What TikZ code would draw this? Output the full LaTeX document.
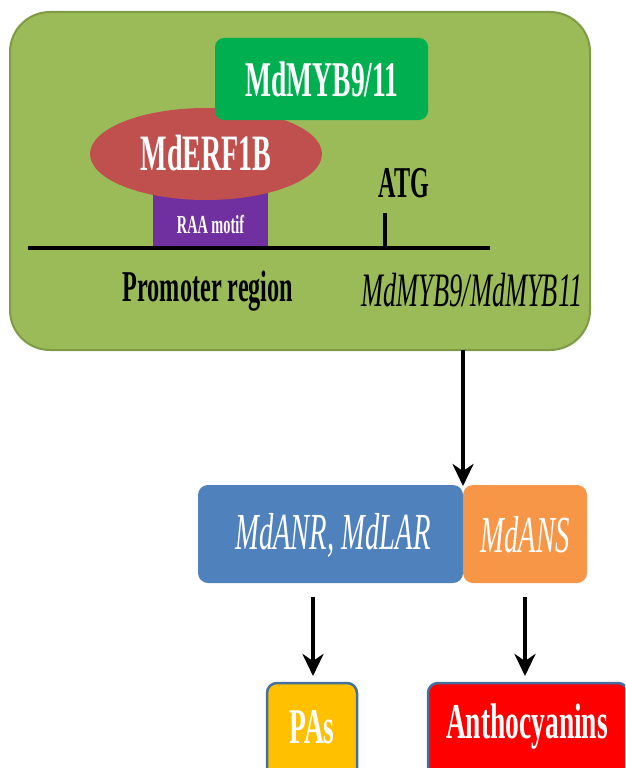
\documentclass[tikz,border=0pt]{standalone}
\usepackage{fontspec}
\setmainfont[FakeStretch=0.55]{Liberation Serif}
\usetikzlibrary{shapes.geometric,arrows.meta}
\definecolor{olivegreen}{HTML}{9BBB59}
\definecolor{oliveedge}{HTML}{7E9A45}
\definecolor{mybgreen}{HTML}{00B050}
\definecolor{erfred}{HTML}{C0504D}
\definecolor{raapurple}{HTML}{7030A0}
\definecolor{enzblue}{HTML}{4F81BD}
\definecolor{ansorange}{HTML}{F79646}
\definecolor{paorange}{HTML}{FFC000}
\definecolor{boxedge}{HTML}{41719C}
\tikzset{
  txt/.style={font=\bfseries\fontsize{#1}{#1}\selectfont},
  itxt/.style={font=\itshape\fontsize{#1}{#1}\selectfont},
  wtxt/.style={text=white},
  flow/.style={line width=4pt,-{Stealth[length=22pt,width=21pt,inset=7pt]}},
  endbox/.style={draw=boxedge,line width=2.5pt,rounded corners=10pt,inner sep=0pt,text=white},
}
\begin{document}
\begin{tikzpicture}[x=1pt,y=-1pt]
\clip (0,0) rectangle (625,768);
\fill[white] (0,0) rectangle (625,768);
% big green panel
\node[draw=oliveedge,line width=2pt,fill=olivegreen,rounded corners=40pt,minimum width=580pt,minimum height=338pt,inner sep=0pt] (panel) at (300,181) {};
% purple RAA motif
\node[fill=raapurple,minimum width=115pt,minimum height=56pt,inner sep=0pt] (raa) at (210.5,220) {};
\node[txt=26,wtxt] (raat) at (210.5,224) {RAA motif};
% red ellipse
\node[ellipse,fill=erfred,minimum width=232pt,minimum height=92pt,inner sep=0pt] (erf) at (206,154) {};
\node[txt=51,wtxt] (erft) at (206,153) {MdERF1B};
% green MYB box
\node[fill=mybgreen,rounded corners=9pt,minimum width=213pt,minimum height=82pt,inner sep=0pt] (myb) at (321.5,79) {};
\node[txt=50,wtxt] (mybt) at (322,79) {MdMYB9/11};
% DNA line
\coordinate (lineL) at (28,248);
\coordinate (lineR) at (490,248);
\draw[line width=4pt] (lineL) -- (lineR);
\coordinate (atgB) at (385,248);
\coordinate (atgT) at (385,213);
\draw[line width=3.5pt] (atgB) -- (atgT);
\node[txt=44] (atg) at (404,183) {ATG};
\node[txt=44] (prom) at (208,291) {Promoter region};
\node[itxt=48] (gene) at (472,290) {MdMYB9/MdMYB11};
% enzyme boxes
\node[fill=enzblue,rounded corners=10pt,minimum width=265pt,minimum height=98pt,inner sep=0pt] (anr) at (330.5,534) {};
\node[fill=ansorange,rounded corners=10pt,minimum width=124pt,minimum height=98pt,inner sep=0pt] (ans) at (525,534) {};
\node[itxt=52,text=white] (anrt) at (333,535) {MdANR, MdLAR};
\node[itxt=52,text=white] (anst) at (525,535) {MdANS};
% main arrow
\coordinate (a0) at (463,350);
\draw[flow] (a0) -- (463,486);
% products
\node[endbox,fill=paorange,minimum width=90pt,minimum height=100pt] (pas) at (312,733) {};
\node[txt=50,wtxt] (past) at (312,727) {PAs};
\node[endbox,fill=red,minimum width=200pt,minimum height=100pt] (antho) at (528,733) {};
\node[txt=50,wtxt] (anthot) at (527,727) {Anthocyanins};
% arrows to products
\coordinate (b0) at (313,597);
\coordinate (c0) at (525,597);
\draw[flow] (b0) -- (313,676);
\draw[flow] (c0) -- (525,676);
\end{tikzpicture}
\end{document}
